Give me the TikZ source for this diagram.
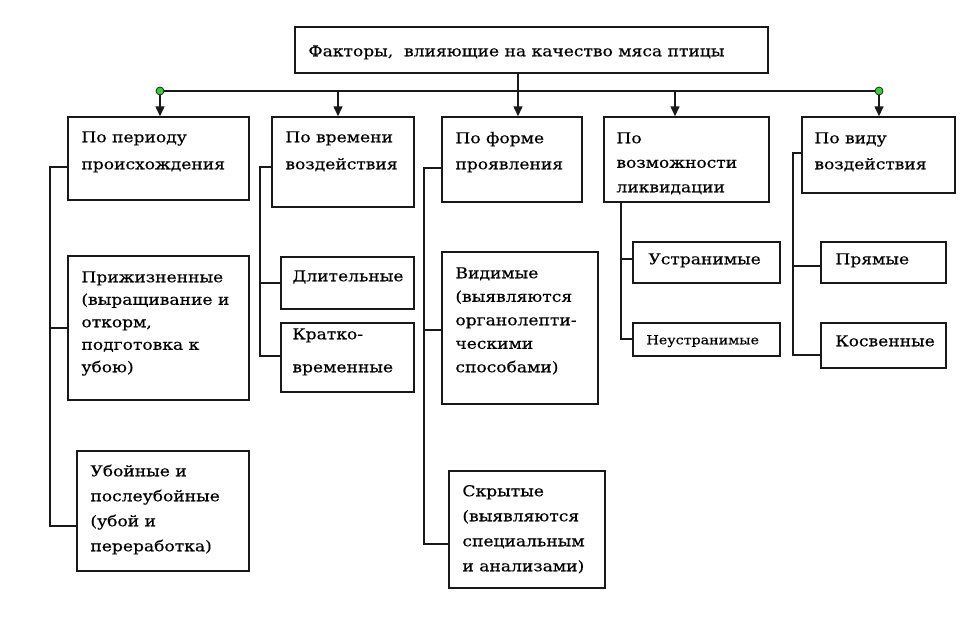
\documentclass[tikz,border=0pt]{standalone}
\usepackage{fontspec}
\setmainfont{DejaVu Serif}[FakeStretch=1.14,FakeBold=0.3]
\usetikzlibrary{arrows.meta,fit,calc}
\definecolor{linec}{RGB}{25,25,25}
\definecolor{dotgreen}{RGB}{60,200,60}
\tikzset{
  boxed/.style={draw=linec, line width=1.5pt, inner sep=0pt, fit=#1},
  txt/.style={anchor=base west, inner sep=0pt, text=black, font=\fontsize{15}{25}\selectfont},
  conn/.style={draw=linec, line width=1.5pt},
  arr/.style={conn, -{Triangle[length=10pt,width=9pt]}},
  gdot/.style={circle, draw=linec, fill=dotgreen, line width=0.7pt, inner sep=0pt, minimum size=8pt},
}
\newcommand\mybox[5]{\path (#2,#3) coordinate (#1-a) (#4,#5) coordinate (#1-b); \node[boxed={(#1-a)(#1-b)}] (#1) {};}
\newcommand\ml[1]{\begin{tabular}[t]{@{}l@{}}#1\end{tabular}}
\begin{document}
\begin{tikzpicture}[x=1pt,y=-1pt]
\useasboundingbox (0,0) rectangle (968,622);
\fill[white] (0,0) rectangle (968,622);
% boxes
\mybox{title}{295}{27}{768}{73}
\mybox{b1}{68}{117}{249}{200}
\mybox{b2}{272}{117}{414}{207}
\mybox{b3}{442}{117}{582}{202}
\mybox{b4}{604}{117}{769}{202}
\mybox{b5}{802}{117}{955}{193}
\mybox{p1}{68}{256}{249}{400}
\mybox{p2}{77}{451}{249}{571}
\mybox{t1}{281}{257}{414}{309}
\mybox{t2}{281}{323}{414}{392}
\mybox{f1}{442}{252}{598}{404}
\mybox{f2}{449}{471}{605}{588}
\mybox{l1}{633}{242}{780}{283}
\mybox{l2}{633}{323}{780}{356}
\mybox{v1}{821}{242}{946}{283}
\mybox{v2}{821}{323}{946}{368}
% texts
\node[txt] at ($(title.north west)+(14,30)$) {Факторы,\ \ влияющие на качество мяса птицы};
\node[txt, font=\fontsize{15}{27}\selectfont] at ($(b1.north west)+(14,26)$) {\ml{По периоду\\происхождения}};
\node[txt, font=\fontsize{15}{27}\selectfont] at ($(b2.north west)+(14,26)$) {\ml{По времени\\воздействия}};
\node[txt, font=\fontsize{15}{26}\selectfont] at ($(b3.north west)+(14,27)$) {\ml{По форме\\проявления}};
\node[txt, font=\fontsize{15}{24.5}\selectfont] at ($(b4.north west)+(13,27)$) {\ml{По\\возможности\\ликвидации}};
\node[txt, font=\fontsize{15}{26}\selectfont] at ($(b5.north west)+(13,27)$) {\ml{По виду\\воздействия}};
\node[txt, font=\fontsize{15}{22.5}\selectfont] at ($(p1.north west)+(14,27)$) {\ml{Прижизненные\\(выращивание и\\откорм,\\подготовка к\\убою)}};
\node[txt] at ($(p2.north west)+(14,26)$) {\ml{Убойные и\\послеубойные\\(убой и\\переработка)}};
\node[txt] at ($(t1.north west)+(12,25)$) {Длительные};
\node[txt, font=\fontsize{15}{33}\selectfont] at ($(t2.north west)+(12,17)$) {\ml{Кратко-\\временные}};
\node[txt, font=\fontsize{15}{23.5}\selectfont] at ($(f1.north west)+(14,27)$) {\ml{Видимые\\(выявляются\\органолепти-\\ческими\\способами)}};
\node[txt] at ($(f2.north west)+(14,26)$) {\ml{Скрытые\\(выявляются\\специальным\\и анализами)}};
\node[txt] at ($(l1.north west)+(16,23)$) {Устранимые};
\node[txt, font=\fontsize{12.5}{15}\selectfont] at ($(l2.north west)+(14,22)$) {Неустранимые};
\node[txt] at ($(v1.north west)+(15,23)$) {Прямые};
\node[txt] at ($(v2.north west)+(15,24)$) {Косвенные};
% bus
\coordinate (j1) at (160,91);
\coordinate (j2) at (338,91);
\coordinate (j3) at (518,91);
\coordinate (j4) at (675,91);
\coordinate (j5) at (879,91);
\draw[conn] (j1) -- (j5);
\draw[conn] (title.south -| j3) -- (j3);
\draw[arr] (j1) -- (j1 |- b1.north);
\draw[arr] (j2) -- (j2 |- b2.north);
\draw[arr] (j3) -- (j3 |- b3.north);
\draw[arr] (j4) -- (j4 |- b4.north);
\draw[arr] (j5) -- (j5 |- b5.north);
\node[gdot] (g1) at (j1) {};
\node[gdot] (g5) at (j5) {};
% column 1
\coordinate (s1) at (50,167);
\coordinate (e1) at (50,526);
\draw[conn] (b1.west |- s1) -- (s1) -- (e1) -- (p2.west |- e1);
\draw[conn] (s1 |- p1.west) -- (p1.west);
% column 2
\coordinate (s2) at (260,167);
\coordinate (m2) at (260,283);
\coordinate (e2) at (260,356);
\draw[conn] (b2.west |- s2) -- (s2) -- (e2) -- (t2.west |- e2);
\draw[conn] (m2) -- (t1.west |- m2);
% column 3
\coordinate (s3) at (424,168);
\coordinate (m3) at (424,330);
\coordinate (e3) at (424,544);
\draw[conn] (b3.west |- s3) -- (s3) -- (e3) -- (f2.west |- e3);
\draw[conn] (m3) -- (f1.west |- m3);
% column 4
\coordinate (s4) at (621,202);
\coordinate (m4) at (621,259);
\coordinate (e4) at (621,339);
\draw[conn] (s4) -- (e4) -- (l2.west |- e4);
\draw[conn] (m4) -- (l1.west |- m4);
% column 5
\coordinate (s5) at (793,153);
\coordinate (m5) at (793,266);
\coordinate (e5) at (793,355);
\draw[conn] (b5.west |- s5) -- (s5) -- (e5) -- (v2.west |- e5);
\draw[conn] (m5) -- (v1.west |- m5);
\end{tikzpicture}
\end{document}
